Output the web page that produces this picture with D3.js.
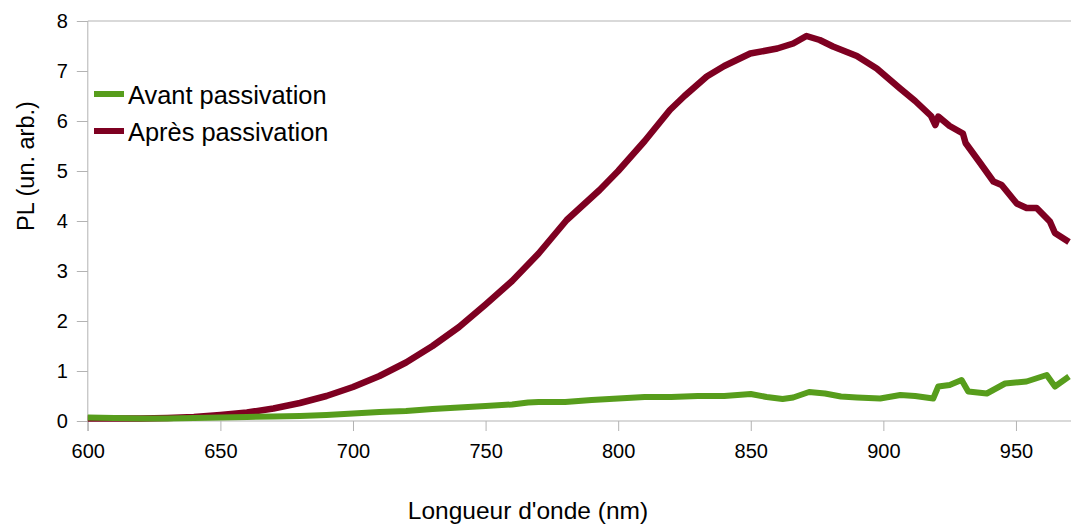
<!DOCTYPE html>
<html>
<head>
<meta charset="utf-8">
<script src="https://cdn.jsdelivr.net/npm/d3@7"></script>
<style>
body { margin: 0; background: #fff; }
text { font-family: "Liberation Sans", Arial, sans-serif; }
</style>
</head>
<body>
<script>
/* data */
var wavelengths = [600, 610, 620, 630, 640, 650, 660, 670, 680, 690, 700, 710, 720, 730, 740, 750,
  760, 770, 780.6, 793, 800, 810, 819.5, 825, 833.4, 840, 849.8, 860, 866, 871, 876, 881, 890, 897.5, 906.3, 912,
  918, 919.6, 920.7, 925, 930, 931, 936.5, 941.5, 944.6, 950.3, 954, 957.8, 962.8, 964.7, 970];
var apres = [0.05, 0.05, 0.05, 0.06, 0.08, 0.12, 0.17, 0.25, 0.36, 0.5, 0.68, 0.9, 1.17, 1.5, 1.88, 2.33,
  2.8, 3.35, 4.02, 4.62, 5.0, 5.6, 6.22, 6.5, 6.89, 7.1, 7.35, 7.45, 7.55, 7.7, 7.62, 7.49, 7.3, 7.05, 6.65, 6.4,
  6.1, 5.92, 6.09, 5.9, 5.75, 5.56, 5.16, 4.79, 4.72, 4.35, 4.26, 4.26, 3.99, 3.76, 3.58];

var wavelengthsAvant = [600, 610, 620, 630, 640, 650, 660, 670, 680, 690, 700, 710, 720, 730, 740, 750,
  760, 766, 770, 780, 790, 800, 810, 820, 830, 840, 850, 856, 862, 866, 872, 878, 884, 890, 898.8,
  906.4, 912, 918.8, 920.7, 925, 929.5, 932, 939, 945.9, 954, 961.6, 964.7, 970];
var avant = [0.07, 0.06, 0.05, 0.05, 0.06, 0.07, 0.08, 0.09, 0.1, 0.12, 0.15, 0.18, 0.2, 0.24, 0.27, 0.3,
  0.33, 0.37, 0.38, 0.38, 0.42, 0.45, 0.48, 0.48, 0.5, 0.5, 0.54, 0.48, 0.44, 0.47, 0.58, 0.55, 0.49, 0.47, 0.45,
  0.52, 0.5, 0.45, 0.69, 0.72, 0.82, 0.59, 0.55, 0.75, 0.79, 0.92, 0.69, 0.89];

var seriesNames = ["Avant passivation", "Après passivation"];
var seriesColors = ["#579d1c", "#7e0021"];
var xTicks = [600, 650, 700, 750, 800, 850, 900, 950];
var yTicks = [0, 1, 2, 3, 4, 5, 6, 7, 8];

var width = 1071, height = 525;
var svg = d3.select("body").append("svg")
  .attr("width", width)
  .attr("height", height);

var x = d3.scaleLinear().domain([600, 970]).range([87.8, 1069]);
var y = d3.scaleLinear().domain([0, 8]).range([421, 21]);

/* top border of the plot wall */
svg.append("line")
  .attr("x1", 87.8).attr("x2", 1071).attr("y1", y(8)).attr("y2", y(8))
  .attr("stroke", "#b3b3b3");

/* axes */
var xAxis = d3.axisBottom(x).tickValues(xTicks).tickSize(10).tickPadding(13);
var gx = svg.append("g").attr("transform", "translate(0,421)").call(xAxis);
gx.select(".domain").attr("stroke", "#b3b3b3").attr("d", "M87.8,0H1071");
gx.selectAll(".tick line").attr("stroke", "#b3b3b3");
gx.selectAll(".tick text").attr("font-size", 20).attr("fill", "#000")
  .attr("font-family", "Liberation Sans, Arial, sans-serif");

var yAxis = d3.axisLeft(y).tickValues(yTicks).tickSize(11).tickPadding(9);
var gy = svg.append("g").attr("transform", "translate(87.8,0)").call(yAxis);
gy.select(".domain").attr("stroke", "#b3b3b3").attr("d", "M0,21V431");
gy.selectAll(".tick line").attr("stroke", "#b3b3b3");
gy.selectAll(".tick text").attr("font-size", 20).attr("fill", "#000")
  .attr("font-family", "Liberation Sans, Arial, sans-serif");

/* lines */
var line = d3.line()
  .x(function (d) { return x(d[0]); })
  .y(function (d) { return y(d[1]); });

var avantData = wavelengthsAvant.map(function (w, i) { return [w, avant[i]]; });
var apresData = wavelengths.map(function (w, i) { return [w, apres[i]]; });

svg.append("path").datum(apresData)
  .attr("d", line).attr("fill", "none")
  .attr("stroke", seriesColors[1]).attr("stroke-width", 6.5)
  .attr("stroke-linejoin", "round");

svg.append("path").datum(avantData)
  .attr("d", line).attr("fill", "none")
  .attr("stroke", seriesColors[0]).attr("stroke-width", 6)
  .attr("stroke-linejoin", "round");

/* legend */
var legend = svg.append("g");
seriesNames.forEach(function (name, i) {
  var ly = 94 + i * 37;
  legend.append("line")
    .attr("x1", 94).attr("x2", 124).attr("y1", ly).attr("y2", ly)
    .attr("stroke", seriesColors[i]).attr("stroke-width", 6);
  legend.append("text")
    .attr("x", 128).attr("y", ly + 10)
    .attr("font-size", 25.4).text(name);
});

/* axis titles */
svg.append("text")
  .attr("x", 528).attr("y", 519)
  .attr("text-anchor", "middle").attr("font-size", 24.5)
  .text("Longueur d'onde (nm)");

svg.append("text")
  .attr("transform", "translate(34,166) rotate(-90)")
  .attr("text-anchor", "middle").attr("font-size", 23.5)
  .text("PL (un. arb.)");
</script>
</body>
</html>
